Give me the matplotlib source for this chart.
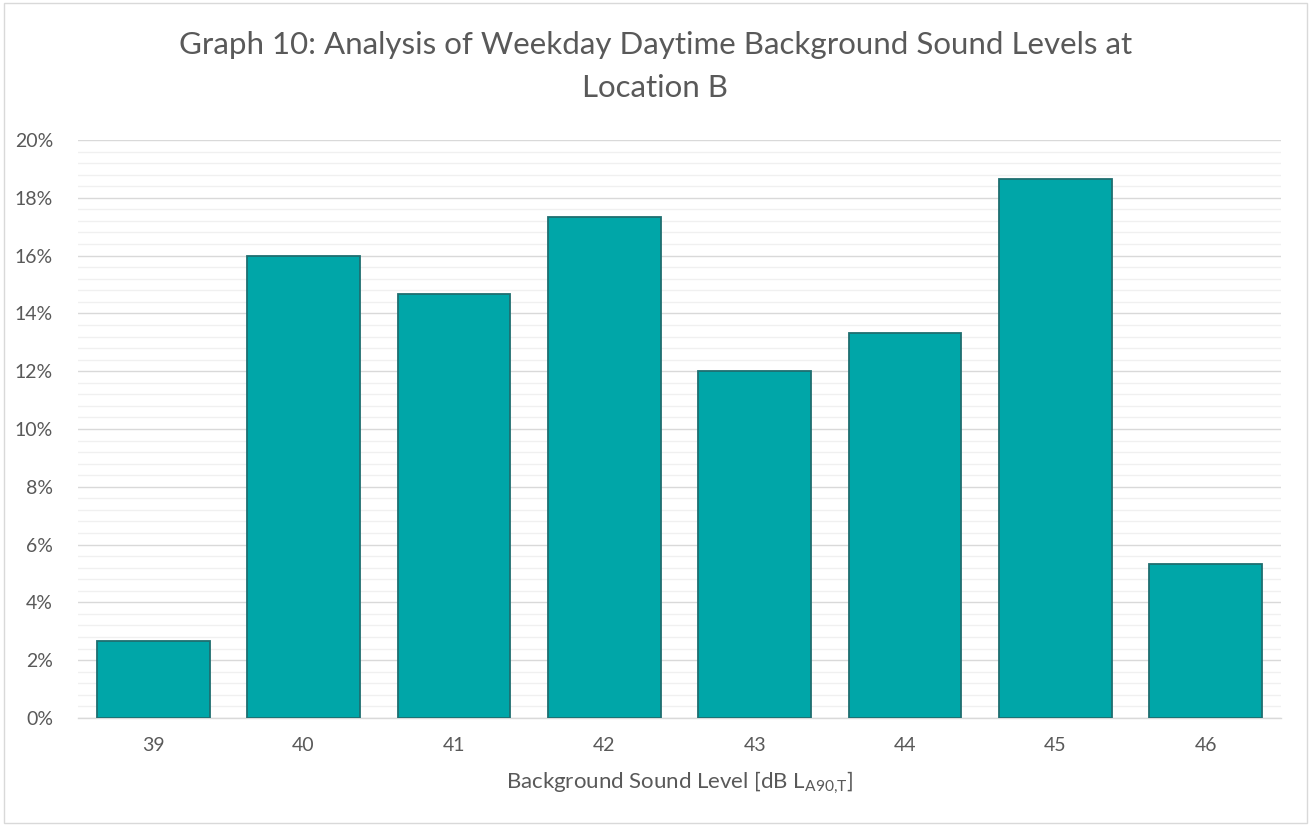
import matplotlib
matplotlib.use("Agg")
import matplotlib.pyplot as plt
from matplotlib.ticker import MultipleLocator, PercentFormatter
from matplotlib.patches import Rectangle

# Share of weekday daytime samples per background sound level
levels = ["39", "40", "41", "42", "43", "44", "45", "46"]
counts = [2, 12, 11, 13, 9, 10, 14, 4]
total = sum(counts)
shares = [c / total * 100 for c in counts]

title = "Graph 10: Analysis of Weekday Daytime Background Sound Levels at\nLocation B"
xlabel = "Background Sound Level [dB L$_{\\mathregular{A90{,}T}}$]"

text_color = "#595959"
bar_color = "#00A6A8"
edge_color = "#1F6E70"

plt.rcParams["font.family"] = ["Lato", "DejaVu Sans"]

fig = plt.figure(figsize=(13.11, 8.26), dpi=100)
ax = fig.add_axes([0.0595, 0.1308, 0.9175, 0.6997])

x = range(len(levels))
ax.bar(x, shares, width=0.75, color=bar_color, edgecolor=edge_color,
       linewidth=1.3, zorder=3)

ax.set_xlim(-0.5, len(levels) - 0.5)
ax.set_ylim(0, 20)
ax.set_xticks(list(x))
ax.set_xticklabels(levels)
ax.yaxis.set_major_locator(MultipleLocator(2))
ax.yaxis.set_minor_locator(MultipleLocator(0.4))
ax.yaxis.set_major_formatter(PercentFormatter(decimals=0))

ax.grid(axis="y", which="major", color="#D9D9D9", linewidth=1.0, zorder=0)
ax.grid(axis="y", which="minor", color="#F0F0F0", linewidth=1.0, zorder=0)
ax.set_axisbelow(True)

for side in ("top", "right", "left"):
    ax.spines[side].set_visible(False)
ax.spines["bottom"].set_color("#D9D9D9")
ax.spines["bottom"].set_linewidth(1.0)

ax.tick_params(axis="both", which="both", length=0, colors=text_color,
               labelsize=14)
ax.tick_params(axis="y", pad=18)
ax.tick_params(axis="x", pad=14)

ax.set_xlabel(xlabel, color=text_color, fontsize=16, labelpad=11)
fig.suptitle(title, color=text_color, fontsize=22.5, y=0.962,
             linespacing=1.65)

fig.patches.append(Rectangle((0.003, 0.004), 0.994, 0.992,
                             transform=fig.transFigure, fill=False,
                             edgecolor="#D9D9D9", linewidth=1.0))

fig.savefig("out.png", dpi=100, facecolor="white")
